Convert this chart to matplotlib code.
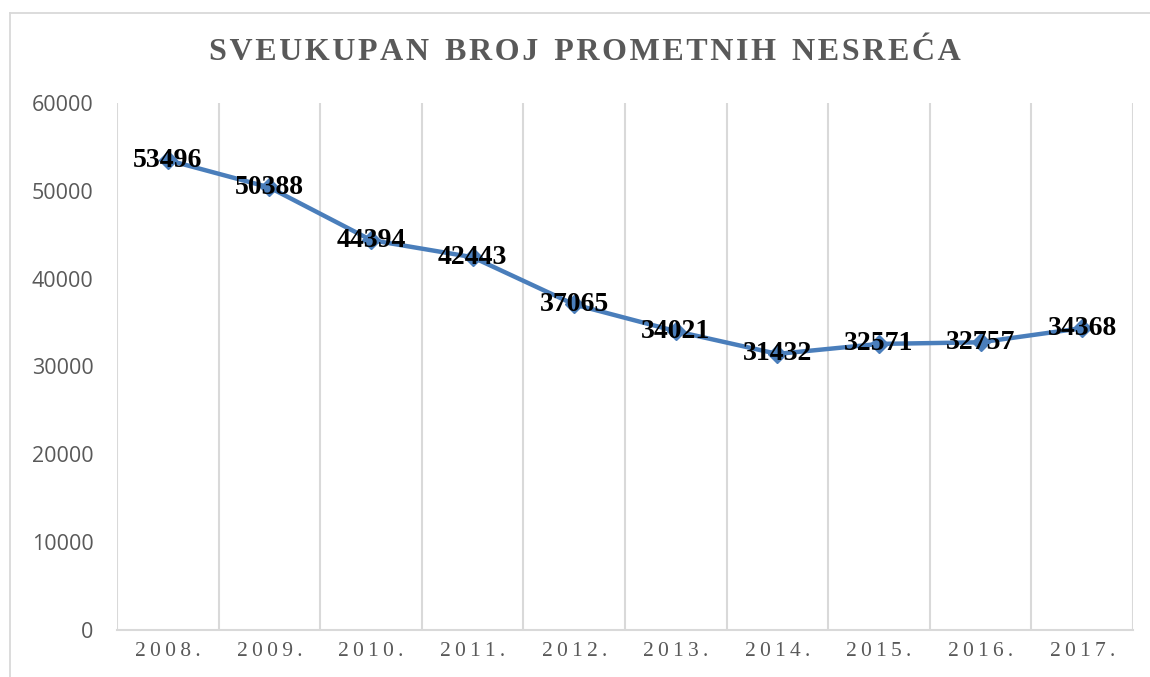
import matplotlib
matplotlib.use("Agg")
import matplotlib.pyplot as plt
from matplotlib.lines import Line2D

years = ["2008.", "2009.", "2010.", "2011.", "2012.", "2013.", "2014.", "2015.", "2016.", "2017."]
accidents = [53496, 50388, 44394, 42443, 37065, 34021, 31432, 32571, 32757, 34368]
y_ticks = [0, 10000, 20000, 30000, 40000, 50000, 60000]
title = "SVEUKUPAN BROJ PROMETNIH NESREĆA"

W, H = 1150, 677
fig = plt.figure(figsize=(W / 100, H / 100), dpi=100)
fig.patch.set_facecolor("white")

# chart-area border (left + top)
border_c = "#d9d9d9"
fig.add_artist(Line2D([10 / W, 10 / W], [0, 1 - 13 / H], transform=fig.transFigure, color=border_c, lw=1.3))
fig.add_artist(Line2D([10 / W, 1], [1 - 13 / H, 1 - 13 / H], transform=fig.transFigure, color=border_c, lw=1.3))

left, right = 117 / W, 1133 / W
bottom, top = 1 - 630 / H, 1 - 103 / H
ax = fig.add_axes([left, bottom, right - left, top - bottom])

n = len(years)
x = list(range(n))
ax.set_xlim(-0.5, n - 0.5)
ax.set_ylim(0, 60000)

grid_c = "#d9d9d9"
for b in range(n + 1):
    ax.axvline(b - 0.5, color=grid_c, lw=1.5, zorder=1)

line_c = "#4a7ebb"
ax.plot(x, accidents, color=line_c, lw=3.2, marker="D", markersize=9,
        markerfacecolor=line_c, markeredgecolor=line_c, zorder=3, solid_capstyle="round")

for xi, v in zip(x, accidents):
    ax.text(xi, v, str(v), ha="center", va="center", fontsize=20,
            fontweight="bold", family="Liberation Serif", color="black", zorder=4)

for s in ["top", "right", "left"]:
    ax.spines[s].set_visible(False)
ax.spines["bottom"].set_color(grid_c)
ax.spines["bottom"].set_linewidth(1.5)

ax.set_xticks(x)
ax.set_xticklabels(["\u2009".join(list(y)) for y in years], family="Liberation Serif",
                   fontsize=15.5, color="#595959")
ax.set_yticks(y_ticks)
ax.set_yticklabels([str(t) for t in y_ticks], family="Open Sans", fontsize=15.5, color="#595959")
ax.tick_params(axis="both", length=0)
ax.tick_params(axis="x", pad=9)
ax.tick_params(axis="y", pad=17)

fig.text(585 / W, 1 - 52 / H, "\u200a".join(list(title)).replace("\u200a \u200a", "  "),
         ha="center", va="center", fontsize=23, fontweight="bold",
         family="Liberation Serif", color="#595959")

fig.savefig("out.png", dpi=100, facecolor="white")
